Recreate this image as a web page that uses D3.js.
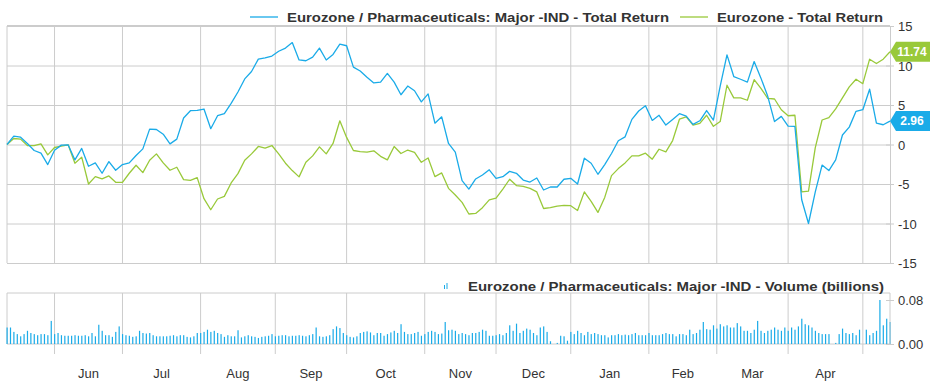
<!DOCTYPE html>
<html>
<head>
<meta charset="utf-8">
<script src="https://cdn.jsdelivr.net/npm/d3@7"></script>
<style>
  body { margin: 0; background: #fff; }
  svg { font-family: "Liberation Sans", Arial, sans-serif; }
</style>
</head>
<body>
<svg id="chart" width="932" height="387"></svg>
<script>
// trading days (weekdays) covered by the chart
const firstDay = new Date(2024, 4, 14);
const lastDay = new Date(2025, 4, 13);
const tradingDays = d3.timeDay.range(firstDay, d3.timeDay.offset(lastDay, 1))
  .filter(d => d.getDay() !== 0 && d.getDay() !== 6);

// total return series, read every 2nd trading day
const sampleStep = 2;
const pharmaTR = [
  0, 1.06, 0.93, 0.13, -0.76, -1.1, -2.54, -0.72, -0.08, -0.04,
  -1.95, -0.5, -2.75, -2.33, -3.64, -2.16, -3.26, -2.54, -2.33, -1.4,
  -0.55, 1.95, 1.9, 1.3, 0.08, 0.68, 3.35, 4.28, 4.32, 4.49,
  2.0, 3.64, 3.9, 5.2, 6.65, 8.3, 9.24, 10.8, 10.97, 11.2,
  11.8, 12.2, 12.9, 10.7, 10.6, 11.06, 12.2, 10.7, 11.4, 12.7,
  12.5, 9.8, 9.3, 8.5, 7.8, 7.9, 9.0, 7.9, 6.3, 7.4,
  6.8, 5.4, 6.4, 2.7, 3.5, 0.13, -0.97, -4.58, -5.64, -4.36,
  -3.86, -3.2, -4.28, -4.07, -3.4, -3.64, -4.5, -4.75, -4.24, -5.76,
  -5.38, -5.38, -4.4, -4.28, -5.0, -1.74, -2.37, -3.77, -2.54, -1.14,
  0.47, 0.97, 3.18, 4.24, 4.9, 3.05, 3.7, 2.46, 3.18, 3.9,
  3.6, 2.54, 3.0, 4.3, 3.1, 7.4, 11.35, 8.6, 8.26, 7.9,
  10.5, 8.4, 6.1, 2.9, 3.56, 2.33, 2.29, -7.0, -10.0, -6.0,
  -2.6, -3.3, -1.95, 1.2, 2.2, 4.2, 4.4, 7.0, 2.7, 2.5,
  2.96
];
const eurozoneTR = [
  0, 0.76, 0.68, -0.13, -0.13, 0.08, -1.31, -0.38, -0.21, -0.04,
  -2.37, -1.6, -5.0, -4.07, -4.36, -3.98, -4.79, -4.79, -3.64, -2.63,
  -3.56, -2.0, -1.19, -2.33, -3.26, -2.88, -4.45, -4.53, -4.19, -6.86,
  -8.26, -6.9, -6.57, -4.87, -3.69, -2.0, -1.19, -0.25, -0.47, -0.13,
  -1.19, -2.37, -3.3, -4.1, -2.25, -1.44, -0.3, -1.19, 0.13, 3.0,
  0.9, -0.76, -0.9, -0.97, -0.8, -1.5, -1.95, -0.25, -1.14, -0.7,
  -1.0, -2.25, -1.7, -4.07, -3.6, -5.55, -6.4, -7.33, -8.8, -8.73,
  -8.0, -7.0, -6.8, -5.64, -4.4, -5.2, -5.3, -5.55, -6.0, -8.1,
  -8.0, -7.8, -7.7, -7.75, -8.35, -6.0, -7.2, -8.6, -6.7, -3.94,
  -3.05, -2.33, -1.44, -1.44, -1.1, -1.86, -0.6, -0.93, 0.5, 3.2,
  3.5, 2.46, 2.67, 3.7, 2.3, 2.9, 7.5, 5.9, 5.9, 5.6,
  8.2, 7.1, 5.85, 5.76, 4.4, 3.64, 3.7, -6.0, -5.9, -0.4,
  3.1, 3.4, 4.5, 5.9, 7.3, 8.26, 7.7, 10.8, 10.25, 10.8,
  11.74
];

// daily volume, billions
const volume = [
  0.030, 0.030, 0.022, 0.018, 0.014, 0.018, 0.024, 0.020, 0.018, 0.016, 0.018, 0.018, 0.016, 0.042,
  0.018, 0.020, 0.016, 0.015, 0.015, 0.015, 0.016, 0.015, 0.015, 0.016, 0.014, 0.020, 0.014, 0.035, 0.024, 0.016, 0.016, 0.013, 0.022, 0.032,
  0.018, 0.016, 0.015, 0.013, 0.014, 0.024, 0.020, 0.019, 0.020, 0.016, 0.014, 0.014, 0.014, 0.014, 0.015, 0.016, 0.014, 0.016, 0.016, 0.013, 0.012, 0.014, 0.020,
  0.020, 0.022, 0.026, 0.022, 0.024, 0.020, 0.018, 0.013, 0.016, 0.014, 0.014, 0.025, 0.012, 0.014, 0.016, 0.014, 0.013, 0.011, 0.013, 0.014, 0.015, 0.018,
  0.014, 0.015, 0.016, 0.016, 0.014, 0.015, 0.015, 0.016, 0.015, 0.014, 0.016, 0.018, 0.030, 0.014, 0.013, 0.014, 0.016, 0.027, 0.032, 0.029, 0.020,
  0.016, 0.013, 0.012, 0.014, 0.020, 0.022, 0.023, 0.021, 0.016, 0.020, 0.020, 0.015, 0.018, 0.021, 0.024, 0.020, 0.036, 0.022, 0.018, 0.018, 0.020, 0.022, 0.015,
  0.018, 0.022, 0.024, 0.022, 0.018, 0.019, 0.040, 0.025, 0.026, 0.024, 0.018, 0.020, 0.018, 0.016, 0.020, 0.020, 0.022, 0.026, 0.024, 0.015, 0.015,
  0.016, 0.018, 0.016, 0.020, 0.034, 0.024, 0.037, 0.020, 0.024, 0.028, 0.026, 0.020, 0.016, 0.030, 0.032, 0.022, 0.005, 0, 0.002, 0.015, 0.014, 0.006,
  0.022, 0.018, 0.024, 0.020, 0.016, 0.022, 0.018, 0.020, 0.018, 0.016, 0.016, 0.012, 0.016, 0.016, 0.018, 0.016, 0.017, 0.016, 0.018, 0.020, 0.016, 0.016, 0.016,
  0.020, 0.016, 0.016, 0.016, 0.018, 0.020, 0.018, 0.018, 0.014, 0.018, 0.018, 0.016, 0.026, 0.018, 0.020, 0.026, 0.040, 0.027, 0.026, 0.034,
  0.028, 0.036, 0.032, 0.034, 0.030, 0.030, 0.038, 0.032, 0.024, 0.024, 0.020, 0.026, 0.042, 0.024, 0.020, 0.024, 0.026, 0.030, 0.026, 0.024, 0.030,
  0.024, 0.030, 0.026, 0.032, 0.046, 0.036, 0.034, 0.030, 0.024, 0.020, 0.018, 0.018, 0.018, 0, 0.002, 0.018, 0.028, 0.020, 0.018, 0.020, 0.016, 0.026,
  0, 0.026, 0.016, 0.020, 0.024, 0.080, 0.034, 0.046, 0.040
];

const seriesNames = [
  "Eurozone / Pharmaceuticals: Major -IND - Total Return",
  "Eurozone - Total Return"
];
const volumeName = "Eurozone / Pharmaceuticals: Major -IND - Volume (billions)";
const yTicks = [-15, -10, -5, 0, 5, 10, 15];
const volTicks = [0, 0.08];

const blue = "#1aabe8", green = "#99c93a", grid = "#cccccc", ink = "#333333";
const left = 7, right = 890;

const svg = d3.select("#chart");
const x = d3.scaleLinear().domain([0, tradingDays.length - 1]).range([left, right]);
const y = d3.scaleLinear().domain([-15, 15]).range([263, 26]);
const yv = d3.scaleLinear().domain([0, 0.08]).range([344, 300]);

// first trading day of every month
const monthStarts = d3.range(1, tradingDays.length)
  .filter(i => tradingDays[i].getMonth() !== tradingDays[i - 1].getMonth());

// ---- main panel grid
svg.append("g")
  .attr("transform", `translate(${left},0)`)
  .call(d3.axisLeft(y).tickValues(yTicks).tickSize(-(right - left)).tickFormat(""))
  .call(g => g.select(".domain").remove())
  .call(g => g.selectAll("line").attr("stroke", grid));

svg.append("g").selectAll("line").data(monthStarts).join("line")
  .attr("x1", d => x(d)).attr("x2", d => x(d))
  .attr("y1", y(15)).attr("y2", y(-15))
  .attr("stroke", grid);
svg.append("line").attr("x1", left).attr("x2", left).attr("y1", y(15)).attr("y2", y(-15)).attr("stroke", grid);
svg.append("line").attr("x1", left).attr("x2", right).attr("y1", y(15) - 0.5).attr("y2", y(15) - 0.5).attr("stroke", grid);

svg.append("g")
  .attr("transform", `translate(${right},0)`)
  .call(d3.axisRight(y).tickValues(yTicks).tickSize(0).tickPadding(8).tickFormat(d => String(d)))
  .call(g => g.select(".domain").attr("stroke", grid))
  .call(g => g.selectAll("text").attr("fill", ink).style("font-size", "13px").attr("dy", "0.35em"))
  .call(g => g.selectAll(".tick").append("line").attr("x1", -4).attr("x2", 4).attr("stroke", grid));

// ---- lines
const line = d3.line()
  .x((d, i) => x(i * sampleStep))
  .y(d => y(d));

svg.append("path").datum(eurozoneTR)
  .attr("fill", "none").attr("stroke", green).attr("stroke-width", 1.3)
  .attr("stroke-linejoin", "round").attr("d", line);
svg.append("path").datum(pharmaTR)
  .attr("fill", "none").attr("stroke", blue).attr("stroke-width", 1.3)
  .attr("stroke-linejoin", "round").attr("d", line);

// ---- last value badges
const badges = [
  { v: eurozoneTR[eurozoneTR.length - 1], c: green },
  { v: pharmaTR[pharmaTR.length - 1], c: blue }
];
const badge = svg.append("g").selectAll("g").data(badges).join("g")
  .attr("transform", d => `translate(${right},${y(d.v)})`);
badge.append("path")
  .attr("d", "M0,0 L6,-10 L40,-10 L40,10 L6,10 Z")
  .attr("fill", d => d.c);
badge.append("text")
  .attr("x", 22).attr("dy", "0.36em").attr("text-anchor", "middle")
  .attr("fill", "#fff").style("font-size", "12px").style("font-weight", "bold")
  .text(d => d.v.toFixed(2));

// ---- legend (bold captions are drawn wider in the original)
const legendItems = [
  { name: seriesNames[0], c: blue, x0: 250, w: 382 },
  { name: seriesNames[1], c: green, x0: 680, w: 166 }
];
const leg = svg.append("g").selectAll("g").data(legendItems).join("g")
  .attr("transform", d => `translate(${d.x0},17)`);
leg.append("line").attr("x1", 0).attr("x2", 28).attr("stroke", d => d.c).attr("stroke-width", 1.3);
leg.append("text").attr("x", 37).attr("dy", "0.35em")
  .attr("textLength", d => d.w).attr("lengthAdjust", "spacingAndGlyphs")
  .attr("fill", ink).style("font-size", "13px").style("font-weight", "bold")
  .text(d => d.name);

// ---- volume panel
const vTop = 293, vBottom = yv(0);
svg.append("line").attr("x1", left).attr("x2", right).attr("y1", vTop).attr("y2", vTop).attr("stroke", grid);
svg.append("line").attr("x1", left).attr("x2", right).attr("y1", vBottom).attr("y2", vBottom).attr("stroke", grid);
svg.append("line").attr("x1", left).attr("x2", left).attr("y1", vTop).attr("y2", vBottom).attr("stroke", grid);
svg.append("g").selectAll("line").data(monthStarts).join("line")
  .attr("x1", d => x(d)).attr("x2", d => x(d))
  .attr("y1", vTop).attr("y2", vBottom + 10)
  .attr("stroke", grid);

svg.append("g").selectAll("rect").data(volume).join("rect")
  .attr("x", (d, i) => x(i) - 0.5)
  .attr("width", 1.2)
  .attr("y", d => yv(d))
  .attr("height", d => vBottom - yv(d))
  .attr("fill", blue);

svg.append("g")
  .attr("transform", `translate(${right},0)`)
  .call(d3.axisRight(yv).tickValues(volTicks).tickSize(0).tickPadding(8).tickFormat(d3.format(".2f")))
  .call(g => g.select(".domain").attr("stroke", grid).attr("d", `M0,${vTop}V${vBottom}`))
  .call(g => g.selectAll("text").attr("fill", ink).style("font-size", "13px"))
  .call(g => g.selectAll(".tick").append("line").attr("x1", -4).attr("x2", 4).attr("stroke", grid));

// volume legend
const vleg = svg.append("g").attr("transform", "translate(444,286)");
vleg.selectAll("rect").data([4, 6]).join("rect")
  .attr("x", (d, i) => i * 2.5).attr("y", d => 3 - d).attr("width", 1).attr("height", d => d)
  .attr("fill", blue);
vleg.append("text").attr("x", 24).attr("dy", "0.35em")
  .attr("textLength", 416).attr("lengthAdjust", "spacingAndGlyphs")
  .attr("fill", ink).style("font-size", "13px").style("font-weight", "bold")
  .text(volumeName);

// ---- month labels
const monthSpans = monthStarts.slice(0, -1).map((s, k) => ({ s, e: monthStarts[k + 1] }));
svg.append("g").selectAll("text").data(monthSpans).join("text")
  .attr("x", d => (x(d.s) + x(d.e)) / 2)
  .attr("y", 373).attr("dy", "0.35em").attr("text-anchor", "middle")
  .attr("fill", ink).style("font-size", "13px")
  .text(d => d3.timeFormat("%b")(tradingDays[d.s]));
</script>
</body>
</html>
